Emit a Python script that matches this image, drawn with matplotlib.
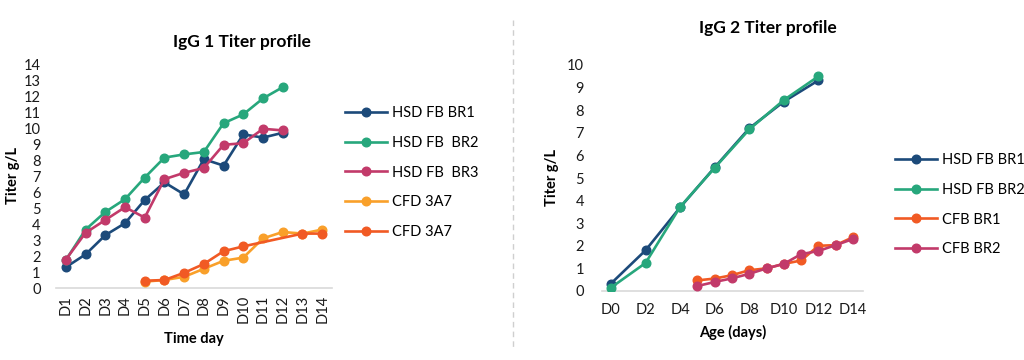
import numpy as np
import matplotlib
matplotlib.use("Agg")
import matplotlib.pyplot as plt
from matplotlib.lines import Line2D

plt.rcParams['font.family'] = ['Lato', 'DejaVu Sans']

# IgG 1 titer (g/L), days D1..D14, None = not measured
days1 = ["D1", "D2", "D3", "D4", "D5", "D6", "D7", "D8", "D9", "D10", "D11", "D12", "D13", "D14"]
hsd_br1 = [1.3, 2.1, 3.3, 4.05, 5.5, 6.6, 5.85, 8.05, 7.65, 9.6, 9.4, 9.7, None, None]
hsd_br2 = [1.75, 3.65, 4.75, 5.55, 6.9, 8.15, 8.35, 8.5, 10.3, 10.85, 11.85, 12.55, None, None]
hsd_br3 = [1.78, 3.45, 4.25, 5.05, 4.4, 6.8, 7.2, 7.5, 8.95, 9.05, 9.95, 9.85, None, None]
cfd_a = [None, None, None, None, 0.4, 0.5, 0.7, 1.2, 1.7, 1.9, 3.1, 3.5, 3.4, 3.65]
cfd_b = [None, None, None, None, 0.45, 0.5, 0.95, 1.5, 2.3, 2.6, None, None, 3.4, 3.4]

# IgG 2 titer (g/L) vs age in days
days_hsd = [0, 2, 4, 6, 8, 10, 12]
hsd2_br1 = [0.33, 1.8, 3.7, 5.47, 7.2, 8.38, 9.32]
hsd2_br2 = [0.15, 1.24, 3.72, 5.45, 7.15, 8.45, 9.5]
days_cfb = [5, 6, 7, 8, 9, 10, 11, 12, 13, 14]
cfb_br1 = [0.47, 0.55, 0.7, 0.92, 1.0, 1.2, 1.35, 2.0, 2.03, 2.38]
cfb_br2 = [0.22, 0.4, 0.56, 0.76, 1.0, 1.2, 1.63, 1.77, 2.03, 2.3]

navy = "#1c4a7a"
green = "#27a77c"
crimson = "#c23a6a"
lorange = "#f9a02a"
rorange = "#f15a24"

W, H = 1024, 360
fig = plt.figure(figsize=(W / 100, H / 100), dpi=100)


def px_axes(left, right, top, bottom):
    return fig.add_axes([left / W, 1 - bottom / H, (right - left) / W, (bottom - top) / H])


def style(ax):
    for s in ["top", "right", "left"]:
        ax.spines[s].set_visible(False)
    ax.spines["bottom"].set_color("#d9d9d9")
    ax.spines["bottom"].set_linewidth(1.2)
    ax.tick_params(length=0, labelsize=10.5, colors="#1a1a1a")


def plot_series(ax, x, y, color, label):
    pts = [(a, b) for a, b in zip(x, y) if b is not None]
    xs, ys = zip(*pts)
    ax.plot(xs, ys, color=color, lw=1.9, marker="o", ms=6.2, label=label, zorder=3)


# left chart
ax1 = px_axes(56, 332, 64, 288)
style(ax1)
idx = np.arange(len(days1))
plot_series(ax1, idx, hsd_br1, navy, "HSD FB BR1")
plot_series(ax1, idx, hsd_br2, green, "HSD FB  BR2")
plot_series(ax1, idx, hsd_br3, crimson, "HSD FB  BR3")
plot_series(ax1, idx, cfd_a, lorange, "CFD 3A7")
plot_series(ax1, idx, cfd_b, rorange, "CFD 3A7")
ax1.set_xlim(-0.5, 13.5)
ax1.set_ylim(0, 14)
ax1.set_yticks(range(0, 15))
ax1.set_xticks(idx)
ax1.set_xticklabels(days1, rotation=90)
ax1.tick_params(axis="y", pad=11)
ax1.tick_params(axis="x", pad=5)
ax1.set_ylabel("Titer g/L", fontweight="bold", fontsize=10.5, labelpad=3)
ax1.set_xlabel("Time day", fontweight="bold", fontsize=10.5, labelpad=6)
fig.text(242 / W, 1 - 42 / H, "IgG 1 Titer profile", ha="center", va="center",
         fontweight="bold", fontsize=12.5)
fig.legend(handles=ax1.get_lines(), loc="upper left", bbox_to_anchor=(345 / W, 1 - 106 / H),
           frameon=False, fontsize=10.5, labelspacing=1.08, handlelength=2.9,
           handletextpad=0.3, borderaxespad=0, borderpad=0)

# right chart
ax2 = px_axes(602, 863, 65, 291)
style(ax2)
plot_series(ax2, days_hsd, hsd2_br1, navy, "HSD FB BR1")
plot_series(ax2, days_hsd, hsd2_br2, green, "HSD FB BR2")
plot_series(ax2, days_cfb, cfb_br1, rorange, "CFB BR1")
plot_series(ax2, days_cfb, cfb_br2, crimson, "CFB BR2")
ax2.set_xlim(-0.52, 14.58)
ax2.set_ylim(0, 10)
ax2.set_yticks(range(0, 11))
ax2.set_xticks(range(0, 15, 2))
ax2.set_xticklabels(["D%d" % d for d in range(0, 15, 2)])
ax2.tick_params(axis="y", pad=13)
ax2.tick_params(axis="x", pad=9)
ax2.set_ylabel("Titer g/L", fontweight="bold", fontsize=10.5, labelpad=6)
ax2.set_xlabel("Age (days)", fontweight="bold", fontsize=10.5, labelpad=5)
fig.text(768 / W, 1 - 28 / H, "IgG 2 Titer profile", ha="center", va="center",
         fontweight="bold", fontsize=12.5)
fig.legend(handles=ax2.get_lines(), loc="upper left", bbox_to_anchor=(895 / W, 1 - 153 / H),
           frameon=False, fontsize=10.5, labelspacing=1.08, handlelength=2.9,
           handletextpad=0.3, borderaxespad=0, borderpad=0)

# dashed separator
fig.add_artist(Line2D([513 / W, 513 / W], [1 - 20 / H, 1 - 350 / H], transform=fig.transFigure,
                      color="#cfcfcf", lw=1, ls=(0, (4, 3))))

fig.savefig("out.png", dpi=100)
